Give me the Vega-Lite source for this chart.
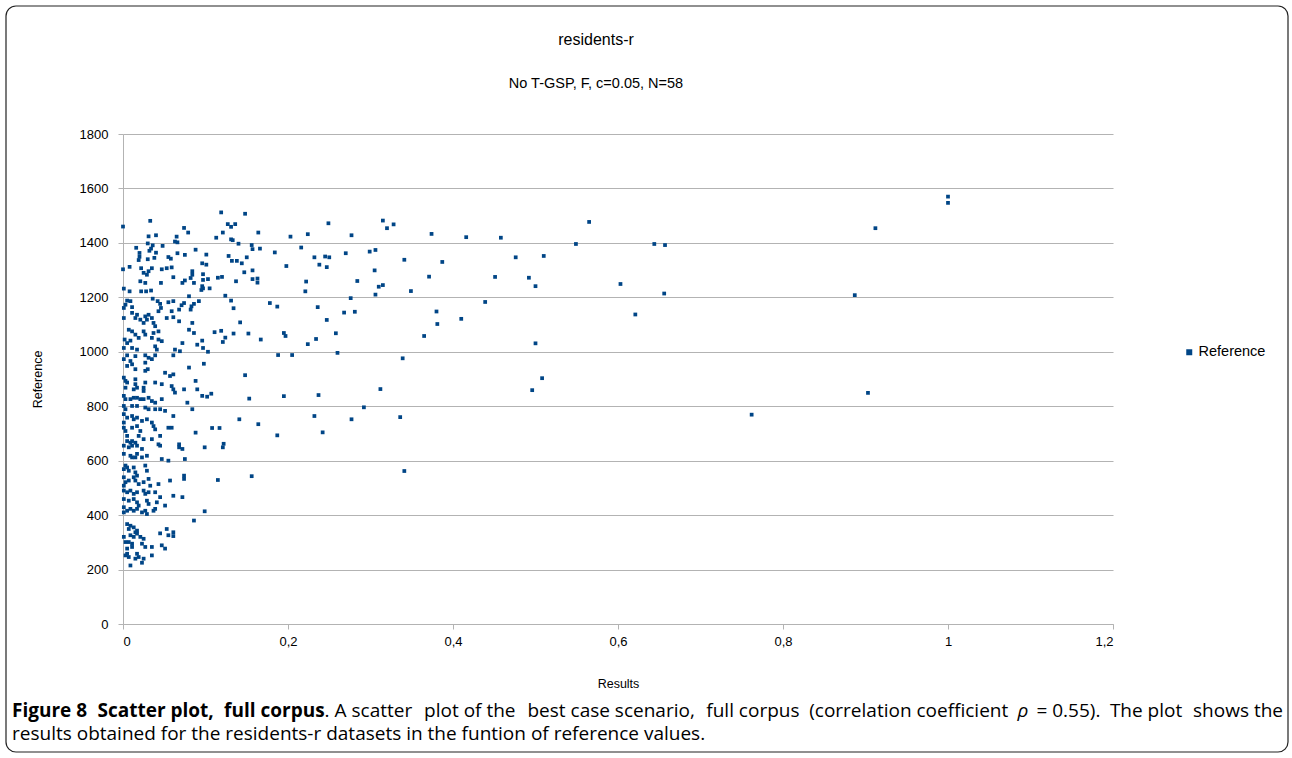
{
"$schema": "https://vega.github.io/schema/vega-lite/v6.json",
"width": 990, "height": 490,
"autosize": {"type": "none"},
"padding": {"left": 123, "top": 134, "right": 179, "bottom": 134},
"background": "white",
"config": {"view": {"stroke": null}, "font": "Liberation Sans"},
"title": {"text": "residents-r", "subtitle": "No T-GSP, F, c=0.05, N=58", "anchor": "middle", "frame": "group", "dx": -22, "offset": -85, "font": "Liberation Sans", "fontSize": 16, "fontWeight": "normal", "color": "#000", "subtitleFont": "Liberation Sans", "subtitleFontSize": 14.5, "subtitleColor": "#000", "subtitlePadding": 29},
"layer": [
{"data": {"values": [
{"Results":1.0,"Reference":1570},{"Results":1.0,"Reference":1547},{"Results":0.912,"Reference":1454},{"Results":0.887,"Reference":1208},{"Results":0.903,"Reference":849},{"Results":0.762,"Reference":769},
{"Results":0.374,"Reference":1433},{"Results":0.416,"Reference":1421},{"Results":0.458,"Reference":1419},{"Results":0.565,"Reference":1477},{"Results":0.549,"Reference":1396},{"Results":0.644,"Reference":1396},{"Results":0.657,"Reference":1392},{"Results":0.341,"Reference":1338},{"Results":0.387,"Reference":1330},{"Results":0.476,"Reference":1347},{"Results":0.510,"Reference":1352},{"Results":0.371,"Reference":1276},{"Results":0.451,"Reference":1275},{"Results":0.492,"Reference":1272},{"Results":0.500,"Reference":1241},{"Results":0.315,"Reference":1245},{"Results":0.349,"Reference":1223},{"Results":0.603,"Reference":1249},{"Results":0.656,"Reference":1214},{"Results":0.439,"Reference":1183},{"Results":0.380,"Reference":1148},{"Results":0.621,"Reference":1137},{"Results":0.381,"Reference":1102},{"Results":0.410,"Reference":1121},{"Results":0.365,"Reference":1058},{"Results":0.500,"Reference":1031},{"Results":0.339,"Reference":976},{"Results":0.508,"Reference":903},{"Results":0.496,"Reference":859},{"Results":0.336,"Reference":760},{"Results":0.341,"Reference":562},
{"Results":0.119,"Reference":1512},{"Results":0.148,"Reference":1507},{"Results":0.127,"Reference":1469},{"Results":0.131,"Reference":1459},{"Results":0.136,"Reference":1469},{"Results":0.121,"Reference":1438},{"Results":0.113,"Reference":1419},{"Results":0.164,"Reference":1438},{"Results":0.131,"Reference":1413},{"Results":0.133,"Reference":1410},{"Results":0.140,"Reference":1397},{"Results":0.156,"Reference":1392},{"Results":0.157,"Reference":1377},{"Results":0.166,"Reference":1379},{"Results":0.184,"Reference":1365},{"Results":0.203,"Reference":1423},{"Results":0.224,"Reference":1432},{"Results":0.249,"Reference":1472},{"Results":0.277,"Reference":1428},{"Results":0.315,"Reference":1482},{"Results":0.320,"Reference":1454},{"Results":0.328,"Reference":1468},{"Results":0.216,"Reference":1383},{"Results":0.101,"Reference":1357},{"Results":0.128,"Reference":1352},{"Results":0.132,"Reference":1334},{"Results":0.138,"Reference":1334},{"Results":0.150,"Reference":1347},{"Results":0.096,"Reference":1325},{"Results":0.101,"Reference":1320},{"Results":0.144,"Reference":1325},{"Results":0.198,"Reference":1315},{"Results":0.232,"Reference":1347},{"Results":0.238,"Reference":1320},{"Results":0.245,"Reference":1350},{"Results":0.250,"Reference":1347},{"Results":0.247,"Reference":1311},{"Results":0.270,"Reference":1362},{"Results":0.299,"Reference":1368},{"Results":0.306,"Reference":1374},{"Results":0.097,"Reference":1285},{"Results":0.147,"Reference":1292},{"Results":0.157,"Reference":1299},{"Results":0.305,"Reference":1299},{"Results":0.097,"Reference":1264},{"Results":0.103,"Reference":1267},{"Results":0.115,"Reference":1272},{"Results":0.120,"Reference":1275},{"Results":0.137,"Reference":1259},{"Results":0.157,"Reference":1267},{"Results":0.163,"Reference":1269},{"Results":0.163,"Reference":1254},{"Results":0.222,"Reference":1258},{"Results":0.221,"Reference":1222},{"Results":0.284,"Reference":1260},{"Results":0.310,"Reference":1239},{"Results":0.306,"Reference":1210},{"Results":0.097,"Reference":1233},{"Results":0.105,"Reference":1233},{"Results":0.095,"Reference":1227},{"Results":0.124,"Reference":1206},{"Results":0.131,"Reference":1188},{"Results":0.134,"Reference":1160},{"Results":0.178,"Reference":1179},{"Results":0.187,"Reference":1166},{"Results":0.236,"Reference":1164},{"Results":0.276,"Reference":1197},{"Results":0.268,"Reference":1144},{"Results":0.281,"Reference":1147},{"Results":0.247,"Reference":1117},{"Results":0.142,"Reference":1108},{"Results":0.111,"Reference":1072},{"Results":0.119,"Reference":1077},{"Results":0.124,"Reference":1052},{"Results":0.121,"Reference":1036},{"Results":0.134,"Reference":1067},{"Results":0.152,"Reference":1067},{"Results":0.167,"Reference":1045},{"Results":0.195,"Reference":1069},{"Results":0.197,"Reference":1058},{"Results":0.224,"Reference":1028},{"Results":0.234,"Reference":1047},{"Results":0.258,"Reference":1068},{"Results":0.096,"Reference":1041},{"Results":0.103,"Reference":1000},{"Results":0.098,"Reference":956},{"Results":0.188,"Reference":988},{"Results":0.205,"Reference":988},{"Results":0.260,"Reference":996},{"Results":0.148,"Reference":914},{"Results":0.102,"Reference":835},{"Results":0.107,"Reference":846},{"Results":0.153,"Reference":828},{"Results":0.195,"Reference":837},{"Results":0.237,"Reference":841},{"Results":0.312,"Reference":863},{"Results":0.292,"Reference":796},{"Results":0.232,"Reference":764},{"Results":0.277,"Reference":752},{"Results":0.141,"Reference":752},{"Results":0.164,"Reference":734},{"Results":0.108,"Reference":720},{"Results":0.117,"Reference":720},
{"Results":0.099,"Reference":649},{"Results":0.121,"Reference":649},{"Results":0.122,"Reference":662},{"Results":0.187,"Reference":693},{"Results":0.115,"Reference":529},{"Results":0.156,"Reference":543},{"Results":0.099,"Reference":414},{"Results":0.242,"Reference":704},
{"Results":0.0,"Reference":1460},{"Results":0.033,"Reference":1481},{"Results":0.031,"Reference":1424},{"Results":0.040,"Reference":1428},{"Results":0.074,"Reference":1455},{"Results":0.079,"Reference":1438},{"Results":0.065,"Reference":1423},{"Results":0.063,"Reference":1405},{"Results":0.066,"Reference":1402},{"Results":0.030,"Reference":1398},{"Results":0.036,"Reference":1391},{"Results":0.034,"Reference":1379},{"Results":0.032,"Reference":1371},{"Results":0.016,"Reference":1382},{"Results":0.048,"Reference":1389},{"Results":0.020,"Reference":1363},{"Results":0.020,"Reference":1349},{"Results":0.019,"Reference":1337},{"Results":0.030,"Reference":1340},{"Results":0.038,"Reference":1345},{"Results":0.040,"Reference":1364},{"Results":0.055,"Reference":1348},{"Results":0.058,"Reference":1342},{"Results":0.066,"Reference":1362},{"Results":0.075,"Reference":1356},{"Results":0.088,"Reference":1375},{"Results":0.008,"Reference":1312},{"Results":0.0,"Reference":1303},{"Results":0.022,"Reference":1307},{"Results":0.035,"Reference":1307},{"Results":0.047,"Reference":1303},{"Results":0.053,"Reference":1307},{"Results":0.059,"Reference":1310},
{"Results":0.025,"Reference":1290},{"Results":0.031,"Reference":1296},{"Results":0.029,"Reference":1283},{"Results":0.084,"Reference":1296},{"Results":0.084,"Reference":1283},{"Results":0.021,"Reference":1259},{"Results":0.027,"Reference":1253},{"Results":0.046,"Reference":1253},{"Results":0.061,"Reference":1274},{"Results":0.075,"Reference":1262},{"Results":0.072,"Reference":1253},{"Results":0.082,"Reference":1271},{"Results":0.086,"Reference":1253},{"Results":0.096,"Reference":1241},{"Results":0.001,"Reference":1232},{"Results":0.008,"Reference":1222},{"Results":0.022,"Reference":1222},{"Results":0.028,"Reference":1222},{"Results":0.034,"Reference":1225},{"Results":0.036,"Reference":1195},{"Results":0.080,"Reference":1204},{"Results":0.005,"Reference":1188},{"Results":0.009,"Reference":1186},{"Results":0.003,"Reference":1173},{"Results":0.042,"Reference":1186},{"Results":0.045,"Reference":1176},{"Results":0.055,"Reference":1182},{"Results":0.061,"Reference":1186},{"Results":0.071,"Reference":1171},{"Results":0.074,"Reference":1179},{"Results":0.086,"Reference":1176},{"Results":0.092,"Reference":1186},{"Results":0.001,"Reference":1161},{"Results":0.011,"Reference":1164},{"Results":0.046,"Reference":1161},{"Results":0.043,"Reference":1149},{"Results":0.059,"Reference":1149},{"Results":0.068,"Reference":1155},{"Results":0.083,"Reference":1167},{"Results":0.082,"Reference":1155},{"Results":0.011,"Reference":1143},{"Results":0.017,"Reference":1136},{"Results":0.015,"Reference":1124},{"Results":0.021,"Reference":1118},{"Results":0.027,"Reference":1130},{"Results":0.029,"Reference":1118},{"Results":0.025,"Reference":1106},{"Results":0.031,"Reference":1136},{"Results":0.035,"Reference":1124},{"Results":0.037,"Reference":1106},{"Results":0.001,"Reference":1124},{"Results":0.053,"Reference":1124},{"Results":0.061,"Reference":1127},{"Results":0.068,"Reference":1112},{"Results":0.084,"Reference":1106},{"Results":0.039,"Reference":1094},{"Results":0.043,"Reference":1075},{"Results":0.037,"Reference":1069},{"Results":0.007,"Reference":1081},{"Results":0.011,"Reference":1075},{"Results":0.015,"Reference":1063},{"Results":0.025,"Reference":1075},{"Results":0.027,"Reference":1063},{"Results":0.080,"Reference":1081},{"Results":0.086,"Reference":1069},{"Results":0.002,"Reference":1045},{"Results":0.009,"Reference":1041},{"Results":0.005,"Reference":1032},{"Results":0.019,"Reference":1051},{"Results":0.035,"Reference":1051},{"Results":0.043,"Reference":1045},{"Results":0.047,"Reference":1039},{"Results":0.001,"Reference":1014},{"Results":0.011,"Reference":1014},{"Results":0.017,"Reference":1008},{"Results":0.039,"Reference":1020},{"Results":0.041,"Reference":1008},{"Results":0.063,"Reference":1008},{"Results":0.072,"Reference":1032},{"Results":0.090,"Reference":1026},{"Results":0.097,"Reference":1014},{"Results":0.005,"Reference":987},{"Results":0.015,"Reference":984},{"Results":0.027,"Reference":987},{"Results":0.039,"Reference":987},{"Results":0.061,"Reference":987},{"Results":0.069,"Reference":1002},
{"Results":0.001,"Reference":973},{"Results":0.009,"Reference":966},{"Results":0.011,"Reference":954},{"Results":0.005,"Reference":948},{"Results":0.027,"Reference":960},{"Results":0.031,"Reference":978},{"Results":0.035,"Reference":973},{"Results":0.015,"Reference":936},{"Results":0.027,"Reference":930},{"Results":0.030,"Reference":936},{"Results":0.051,"Reference":923},{"Results":0.057,"Reference":911},{"Results":0.061,"Reference":917},{"Results":0.080,"Reference":942},{"Results":0.001,"Reference":905},{"Results":0.003,"Reference":893},{"Results":0.005,"Reference":887},{"Results":0.003,"Reference":868},{"Results":0.015,"Reference":899},{"Results":0.015,"Reference":881},{"Results":0.013,"Reference":862},{"Results":0.017,"Reference":868},{"Results":0.027,"Reference":887},{"Results":0.025,"Reference":868},{"Results":0.025,"Reference":856},{"Results":0.039,"Reference":887},{"Results":0.047,"Reference":881},{"Results":0.059,"Reference":874},{"Results":0.061,"Reference":862},{"Results":0.063,"Reference":850},{"Results":0.074,"Reference":862},{"Results":0.088,"Reference":893},{"Results":0.090,"Reference":862},{"Results":0.001,"Reference":838},{"Results":0.003,"Reference":826},{"Results":0.009,"Reference":826},{"Results":0.013,"Reference":831},{"Results":0.017,"Reference":831},{"Results":0.021,"Reference":826},{"Results":0.025,"Reference":826},{"Results":0.031,"Reference":831},{"Results":0.035,"Reference":819},{"Results":0.039,"Reference":813},{"Results":0.047,"Reference":826},{"Results":0.078,"Reference":813},{"Results":0.096,"Reference":838},{"Results":0.001,"Reference":801},{"Results":0.003,"Reference":789},{"Results":0.001,"Reference":771},{"Results":0.011,"Reference":801},{"Results":0.017,"Reference":801},{"Results":0.027,"Reference":795},{"Results":0.031,"Reference":789},{"Results":0.039,"Reference":789},{"Results":0.045,"Reference":789},{"Results":0.051,"Reference":783},{"Results":0.061,"Reference":764},{"Results":0.084,"Reference":789},{"Results":0.005,"Reference":758},{"Results":0.011,"Reference":764},{"Results":0.013,"Reference":752},{"Results":0.017,"Reference":758},{"Results":0.023,"Reference":746},{"Results":0.029,"Reference":752},{"Results":0.035,"Reference":740},{"Results":0.037,"Reference":727},{"Results":0.001,"Reference":740},{"Results":0.001,"Reference":721},{"Results":0.003,"Reference":709},{"Results":0.005,"Reference":691},{"Results":0.011,"Reference":721},{"Results":0.017,"Reference":727},{"Results":0.021,"Reference":709},{"Results":0.019,"Reference":691},{"Results":0.039,"Reference":715},{"Results":0.055,"Reference":721},{"Results":0.059,"Reference":721},{"Results":0.005,"Reference":672},{"Results":0.009,"Reference":666},{"Results":0.011,"Reference":672},{"Results":0.015,"Reference":666},{"Results":0.025,"Reference":679},{"Results":0.035,"Reference":679},{"Results":0.045,"Reference":691},{"Results":0.088,"Reference":703},{"Results":0.068,"Reference":660},{"Results":0.043,"Reference":660},
{"Results":0.001,"Reference":655},{"Results":0.007,"Reference":649},{"Results":0.011,"Reference":655},{"Results":0.017,"Reference":655},{"Results":0.023,"Reference":643},{"Results":0.045,"Reference":655},{"Results":0.068,"Reference":649},{"Results":0.072,"Reference":643},{"Results":0.001,"Reference":625},{"Results":0.009,"Reference":618},{"Results":0.011,"Reference":612},{"Results":0.015,"Reference":612},{"Results":0.017,"Reference":625},{"Results":0.023,"Reference":612},{"Results":0.029,"Reference":618},{"Results":0.047,"Reference":606},{"Results":0.055,"Reference":600},{"Results":0.075,"Reference":606},{"Results":0.003,"Reference":582},{"Results":0.001,"Reference":569},{"Results":0.005,"Reference":575},{"Results":0.007,"Reference":563},{"Results":0.013,"Reference":575},{"Results":0.015,"Reference":557},{"Results":0.017,"Reference":545},{"Results":0.013,"Reference":539},{"Results":0.027,"Reference":582},{"Results":0.029,"Reference":563},{"Results":0.074,"Reference":545},{"Results":0.074,"Reference":533},{"Results":0.001,"Reference":539},{"Results":0.003,"Reference":521},{"Results":0.007,"Reference":527},{"Results":0.001,"Reference":508},{"Results":0.015,"Reference":527},{"Results":0.019,"Reference":514},{"Results":0.025,"Reference":521},{"Results":0.031,"Reference":533},{"Results":0.033,"Reference":508},{"Results":0.043,"Reference":514},{"Results":0.057,"Reference":527},{"Results":0.001,"Reference":490},{"Results":0.005,"Reference":484},{"Results":0.009,"Reference":490},{"Results":0.013,"Reference":478},{"Results":0.017,"Reference":484},{"Results":0.025,"Reference":490},{"Results":0.027,"Reference":478},{"Results":0.031,"Reference":484},{"Results":0.039,"Reference":484},{"Results":0.045,"Reference":466},{"Results":0.061,"Reference":471},{"Results":0.072,"Reference":466},{"Results":0.001,"Reference":459},{"Results":0.007,"Reference":453},{"Results":0.013,"Reference":459},{"Results":0.017,"Reference":447},{"Results":0.019,"Reference":435},{"Results":0.029,"Reference":453},{"Results":0.031,"Reference":441},{"Results":0.041,"Reference":447},{"Results":0.051,"Reference":435},{"Results":0.001,"Reference":429},{"Results":0.005,"Reference":416},{"Results":0.001,"Reference":410},{"Results":0.009,"Reference":423},{"Results":0.013,"Reference":416},{"Results":0.017,"Reference":423},{"Results":0.023,"Reference":410},{"Results":0.027,"Reference":416},{"Results":0.029,"Reference":404},{"Results":0.037,"Reference":416},{"Results":0.039,"Reference":423},{"Results":0.005,"Reference":367},{"Results":0.009,"Reference":361},{"Results":0.007,"Reference":349},{"Results":0.013,"Reference":355},{"Results":0.017,"Reference":343},{"Results":0.015,"Reference":337},{"Results":0.045,"Reference":333},{"Results":0.053,"Reference":349},{"Results":0.061,"Reference":337},{"Results":0.086,"Reference":380},
{"Results":0.001,"Reference":320},{"Results":0.009,"Reference":326},{"Results":0.013,"Reference":320},{"Results":0.017,"Reference":332},{"Results":0.021,"Reference":320},{"Results":0.025,"Reference":313},{"Results":0.055,"Reference":326},{"Results":0.061,"Reference":323},{"Results":0.047,"Reference":289},{"Results":0.051,"Reference":277},{"Results":0.003,"Reference":301},{"Results":0.007,"Reference":301},{"Results":0.011,"Reference":295},{"Results":0.005,"Reference":277},{"Results":0.011,"Reference":283},{"Results":0.023,"Reference":295},{"Results":0.027,"Reference":283},{"Results":0.035,"Reference":283},{"Results":0.035,"Reference":252},{"Results":0.003,"Reference":252},{"Results":0.007,"Reference":246},{"Results":0.005,"Reference":258},{"Results":0.017,"Reference":258},{"Results":0.019,"Reference":246},{"Results":0.015,"Reference":240},{"Results":0.025,"Reference":240},{"Results":0.023,"Reference":225},{"Results":0.009,"Reference":215}
]},
"mark": {"type": "point", "shape": "square", "filled": true, "size": 14, "opacity": 1, "strokeWidth": 0},
"encoding": {
"x": {"field": "Results", "type": "quantitative", "scale": {"domain": [0, 1.2], "nice": false, "zero": false},
 "axis": {"values": [0, 0.2, 0.4, 0.6, 0.8, 1, 1.2], "labelExpr": "replace(format(datum.value, '~g'), '.', ',')", "grid": false, "domainColor": "#b3b3b3", "tickColor": "#b3b3b3", "tickSize": 5, "labelFont": "Liberation Sans", "labelFontSize": 13, "labelColor": "#000", "labelPadding": 6, "title": "Results", "titleFont": "Liberation Sans", "titleFontSize": 12.5, "titleFontWeight": "normal", "titleColor": "#000", "titlePadding": 29}},
"y": {"field": "Reference", "type": "quantitative", "scale": {"domain": [0, 1800], "nice": false},
 "axis": {"values": [0, 200, 400, 600, 800, 1000, 1200, 1400, 1600, 1800], "format": "d", "grid": true, "gridColor": "#b3b3b3", "domainColor": "#b3b3b3", "tickColor": "#b3b3b3", "tickSize": 5, "labelFont": "Liberation Sans", "labelFontSize": 13, "labelColor": "#000", "labelPadding": 10, "title": "Reference", "titleFont": "Liberation Sans", "titleFontSize": 12.5, "titleFontWeight": "normal", "titleColor": "#000", "titlePadding": 35}},
"color": {"datum": "Reference", "type": "nominal", "scale": {"range": ["#004586"]},
 "legend": {"orient": "none", "legendX": 1059, "legendY": 211, "title": null, "symbolType": "square", "symbolSize": 36, "symbolStrokeWidth": 0, "labelFont": "Liberation Sans", "labelFontSize": 14.5, "labelColor": "#000", "labelOffset": 2}}
}},
{"data": {"values": [{}]}, "mark": {"type": "rect", "fill": null, "stroke": "#222", "strokeWidth": 1.2, "cornerRadius": 10, "clip": false},
 "encoding": {"x": {"value": -117}, "x2": {"value": 1165}, "y": {"value": -128}, "y2": {"value": 618}}},
{"data": {"values": [{}]}, "mark": {"type": "text", "text": "Figure 8", "font": "Open Sans", "fontSize": 19, "fontWeight": "bold", "color": "#000", "align": "left", "baseline": "alphabetic"},
 "encoding": {"x": {"value": -111}, "y": {"value": 583}}},
{"data": {"values": [{}]}, "mark": {"type": "text", "text": "Scatter plot,", "font": "Open Sans", "fontSize": 19, "fontWeight": "bold", "color": "#000", "align": "left", "baseline": "alphabetic"},
 "encoding": {"x": {"value": -25.5}, "y": {"value": 583}}},
{"data": {"values": [{}]}, "mark": {"type": "text", "text": "full corpus", "font": "Open Sans", "fontSize": 19, "fontWeight": "bold", "color": "#000", "align": "right", "baseline": "alphabetic"},
 "encoding": {"x": {"value": 201.6}, "y": {"value": 583}}},
{"data": {"values": [{}]}, "mark": {"type": "text", "text": ". A scatter", "font": "Open Sans", "fontSize": 19, "color": "#000", "align": "left", "baseline": "alphabetic"},
 "encoding": {"x": {"value": 201.6}, "y": {"value": 583}}},
{"data": {"values": [{}]}, "mark": {"type": "text", "text": "plot of the", "font": "Open Sans", "fontSize": 19, "color": "#000", "align": "left", "baseline": "alphabetic"},
 "encoding": {"x": {"value": 301.1}, "y": {"value": 583}}},
{"data": {"values": [{}]}, "mark": {"type": "text", "text": "best case scenario,", "font": "Open Sans", "fontSize": 19, "color": "#000", "align": "left", "baseline": "alphabetic"},
 "encoding": {"x": {"value": 404.5}, "y": {"value": 583}}},
{"data": {"values": [{}]}, "mark": {"type": "text", "text": "full corpus", "font": "Open Sans", "fontSize": 19, "color": "#000", "align": "left", "baseline": "alphabetic"},
 "encoding": {"x": {"value": 583.3}, "y": {"value": 583}}},
{"data": {"values": [{}]}, "mark": {"type": "text", "text": "(correlation coefficient", "font": "Open Sans", "fontSize": 19, "color": "#000", "align": "left", "baseline": "alphabetic"},
 "encoding": {"x": {"value": 686.2}, "y": {"value": 583}}},
{"data": {"values": [{}]}, "mark": {"type": "text", "text": "ρ", "font": "Open Sans", "fontSize": 19, "fontStyle": "italic", "color": "#000", "align": "left", "baseline": "alphabetic"},
 "encoding": {"x": {"value": 894.5}, "y": {"value": 583}}},
{"data": {"values": [{}]}, "mark": {"type": "text", "text": "= 0.55).", "font": "Open Sans", "fontSize": 19, "color": "#000", "align": "left", "baseline": "alphabetic"},
 "encoding": {"x": {"value": 913.4}, "y": {"value": 583}}},
{"data": {"values": [{}]}, "mark": {"type": "text", "text": "The plot", "font": "Open Sans", "fontSize": 19, "color": "#000", "align": "left", "baseline": "alphabetic"},
 "encoding": {"x": {"value": 986.9}, "y": {"value": 583}}},
{"data": {"values": [{}]}, "mark": {"type": "text", "text": "shows the", "font": "Open Sans", "fontSize": 19, "color": "#000", "align": "right", "baseline": "alphabetic"},
 "encoding": {"x": {"value": 1160}, "y": {"value": 583}}},
{"data": {"values": [{}]}, "mark": {"type": "text", "text": "results obtained for the residents-r datasets in the funtion of reference values.", "font": "Open Sans", "fontSize": 19, "color": "#000", "align": "left", "baseline": "alphabetic"},
 "encoding": {"x": {"value": -111}, "y": {"value": 606}}}
]
}
